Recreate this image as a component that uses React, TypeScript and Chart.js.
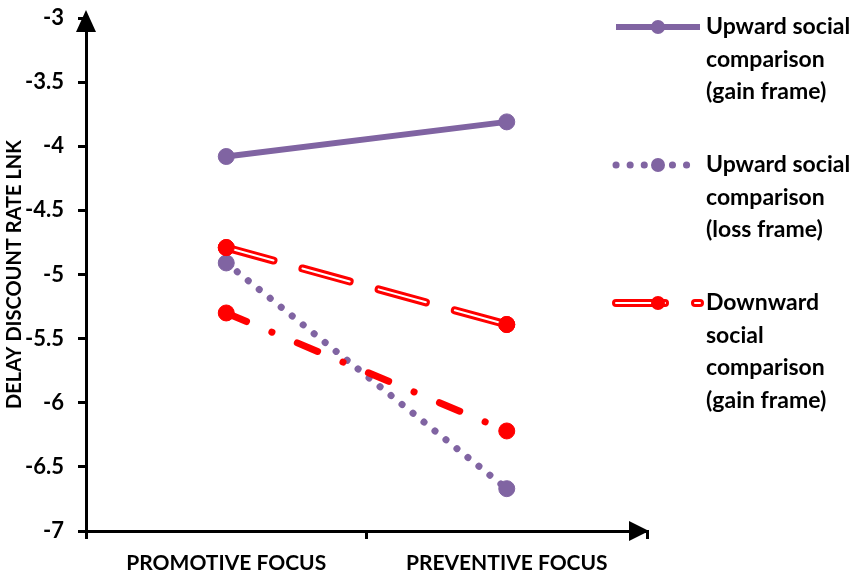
import { useEffect, useRef } from "react";
import { Chart, registerables, type Plugin } from "chart.js";

Chart.register(...registerables);

const PURPLE = "#8064a2";
const RED = "#ff0000";
const FONT = "Lato";

const categories = ["PROMOTIVE FOCUS", "PREVENTIVE FOCUS"];
const upwardGain = [-4.08, -3.81];
const upwardLoss = [-4.91, -6.67];
const downwardGain = [-4.79, -5.39];
const downwardLoss = [-5.3, -6.22];
const yTicks = [-7, -6.5, -6, -5.5, -5, -4.5, -4, -3.5, -3];

const seriesNames = [
  "Upward social comparison (gain frame)",
  "Upward social comparison (loss frame)",
  "Downward social comparison (gain frame)",
  "Downward social comparison (loss frame)",
];

const legendText = [
  ["Upward social", "comparison", "(gain frame)"],
  ["Upward social", "comparison", "(loss frame)"],
  ["Downward", "social", "comparison", "(gain frame)"],
];
// which datasets make up each legend symbol (drawn in this order)
const legendSymbols = [[0], [1], [3, 2]];

const decorPlugin: Plugin<"line"> = {
  id: "decor",
  afterDraw(chart) {
    const { ctx, chartArea: a } = chart;
    ctx.save();

    // axis arrows
    ctx.fillStyle = "#000";
    ctx.beginPath();
    ctx.moveTo(a.left, a.top - 8);
    ctx.lineTo(a.left - 10, a.top + 14);
    ctx.lineTo(a.left + 10, a.top + 14);
    ctx.closePath();
    ctx.fill();
    ctx.beginPath();
    ctx.moveTo(a.right + 2, a.bottom);
    ctx.lineTo(a.right - 18, a.bottom - 10);
    ctx.lineTo(a.right - 18, a.bottom + 10);
    ctx.closePath();
    ctx.fill();

    // legend
    const tops = [27, 165, 303];
    const x0 = 616;
    const x1 = 700;
    const mx = 658;
    legendText.forEach((lines, i) => {
      const y = tops[i];
      const sets = legendSymbols[i].map((d) => chart.data.datasets[d] as any);
      sets.forEach((ds) => {
        ctx.save();
        ctx.strokeStyle = ds.borderColor;
        ctx.lineWidth = ds.borderWidth;
        ctx.lineCap = ds.borderCapStyle || "butt";
        ctx.setLineDash(ds.borderDash || []);
        ctx.beginPath();
        ctx.moveTo(x0, y);
        ctx.lineTo(x1, y);
        ctx.stroke();
        ctx.restore();
      });
      ctx.fillStyle = sets[0].pointBackgroundColor;
      ctx.beginPath();
      ctx.arc(mx, y, 7, 0, Math.PI * 2);
      ctx.fill();

      ctx.fillStyle = "#000";
      ctx.font = `bold 23px ${FONT}`;
      ctx.textAlign = "left";
      ctx.textBaseline = "middle";
      lines.forEach((t, j) => ctx.fillText(t, 706, y + j * 32.5));
    });

    ctx.restore();
  },
};

export default function App() {
  const canvasRef = useRef<HTMLCanvasElement>(null);
  const chartRef = useRef<Chart<"line"> | null>(null);

  useEffect(() => {
    document.body.style.margin = "0";
    if (!canvasRef.current) return;
    chartRef.current?.destroy();

    chartRef.current = new Chart(canvasRef.current, {
      type: "line",
      data: {
        labels: categories,
        datasets: [
          {
            label: seriesNames[0],
            data: upwardGain,
            borderColor: PURPLE,
            borderWidth: 6,
            pointRadius: 8,
            pointBorderWidth: 1,
            pointBackgroundColor: PURPLE,
            pointBorderColor: PURPLE,
            order: 4,
          },
          {
            label: seriesNames[1],
            data: upwardLoss,
            borderColor: PURPLE,
            borderWidth: 7,
            borderDash: [0.1, 14],
            borderCapStyle: "round",
            pointRadius: 8,
            pointBorderWidth: 1,
            pointBackgroundColor: PURPLE,
            pointBorderColor: PURPLE,
            order: 3,
          },
          {
            // white core of the double line
            label: seriesNames[2] + " core",
            data: downwardGain,
            borderColor: "#ffffff",
            borderWidth: 2,
            borderDash: [49, 30],
            borderCapStyle: "round",
            pointRadius: 8,
            pointBorderWidth: 1,
            pointBackgroundColor: RED,
            pointBorderColor: RED,
            order: 0,
          },
          {
            label: seriesNames[2],
            data: downwardGain,
            borderColor: RED,
            borderWidth: 8,
            borderDash: [49, 30],
            borderCapStyle: "round",
            pointRadius: 8,
            pointBorderWidth: 1,
            pointBackgroundColor: RED,
            pointBorderColor: RED,
            order: 1,
          },
          {
            label: seriesNames[3],
            data: downwardLoss,
            borderColor: RED,
            borderWidth: 7,
            borderDash: [22, 27.5, 0.1, 27.5],
            borderCapStyle: "round",
            pointRadius: 8,
            pointBorderWidth: 1,
            pointBackgroundColor: RED,
            pointBorderColor: RED,
            order: 2,
          },
        ],
      },
      options: {
        responsive: true,
        maintainAspectRatio: false,
        animation: false,
        layout: { padding: { top: 18, right: 207, left: 0, bottom: 0 } },
        font: { family: FONT },
        plugins: {
          legend: { display: false },
          tooltip: { enabled: false },
        },
        scales: {
          x: {
            offset: true,
            afterFit: (s) => {
              s.height = 48;
            },
            grid: {
              offset: true,
              drawOnChartArea: false,
              drawTicks: true,
              tickLength: 8,
              color: "#000",
              lineWidth: 3,
            },
            border: { display: true, color: "#000", width: 3 },
            ticks: {
              color: "#000",
              padding: 12,
              maxRotation: 0,
              font: { family: FONT, size: 21, weight: "bold" },
            },
          },
          y: {
            min: -7,
            max: -3,
            afterFit: (s) => {
              s.width = 86;
              s.paddingTop = 0;
              s.paddingBottom = 0;
            },
            afterBuildTicks: (s) => {
              s.ticks = yTicks.map((v) => ({ value: v }));
            },
            grid: {
              drawOnChartArea: false,
              drawTicks: true,
              tickLength: 8,
              color: "#000",
              lineWidth: 3,
            },
            border: { display: true, color: "#000", width: 3 },
            ticks: {
              color: "#000",
              padding: 14,
              font: { family: FONT, size: 22, weight: "bold" },
              callback: (v) => String(v),
            },
            title: {
              display: true,
              text: "DELAY DISCOUNT RATE LNK",
              color: "#000",
              padding: { top: 3, bottom: 3 },
              font: { family: FONT, size: 20, weight: "bold" },
            },
          },
        },
      },
      plugins: [decorPlugin],
    });

    return () => {
      chartRef.current?.destroy();
      chartRef.current = null;
    };
  }, []);

  return (
    <div style={{ position: "relative", width: 854, height: 579 }}>
      <canvas ref={canvasRef} />
    </div>
  );
}
